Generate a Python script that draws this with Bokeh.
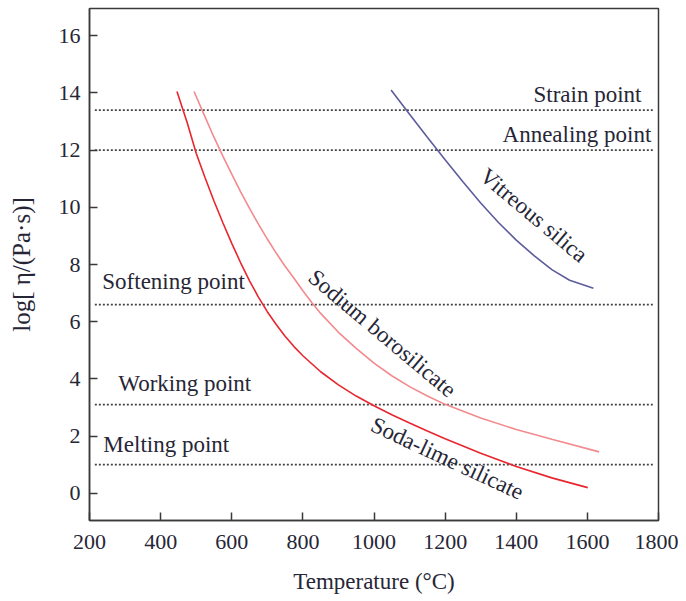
from bokeh.plotting import figure
from bokeh.models import ColumnDataSource, FixedTicker, Range1d
from bokeh.core.properties import value
from bokeh.embed import file_html
from bokeh.resources import INLINE
import math

# ---- data ----
soda_T = [446, 475, 500, 525, 550, 575, 600, 625, 650, 675, 700, 725, 750, 775, 800,
          850, 900, 950, 1000, 1050, 1100, 1150, 1200, 1300, 1400, 1500, 1601]
soda_logeta = [14.05, 12.95, 11.89, 11.03, 10.22, 9.46, 8.74, 8.06, 7.43, 6.86, 6.35, 5.90, 5.49, 5.13, 4.81,
               4.25, 3.79, 3.40, 3.06, 2.75, 2.46, 2.18, 1.91, 1.40, 0.94, 0.54, 0.20]

boro_T = [494, 520, 550, 575, 600, 625, 650, 675, 700, 725, 750, 775, 800, 825, 850,
          900, 950, 1000, 1050, 1100, 1150, 1200, 1300, 1400, 1500, 1633]
boro_logeta = [14.05, 13.3, 12.45, 11.79, 11.16, 10.54, 9.96, 9.41, 8.89, 8.40, 7.94, 7.52, 7.08, 6.67, 6.29,
               5.63, 5.07, 4.55, 4.11, 3.73, 3.40, 3.11, 2.63, 2.23, 1.89, 1.45]

silica_T = [1048, 1100, 1150, 1200, 1250, 1300, 1350, 1400, 1450, 1500, 1550, 1617]
silica_logeta = [14.1, 13.25, 12.45, 11.66, 10.89, 10.15, 9.47, 8.85, 8.31, 7.82, 7.45, 7.17]

point_names = ["Strain point", "Annealing point", "Softening point", "Working point", "Melting point"]
point_levels = [13.4, 12.0, 6.6, 3.1, 1.0]

x_ticks = [200, 400, 600, 800, 1000, 1200, 1400, 1600, 1800]
y_ticks = [0, 2, 4, 6, 8, 10, 12, 14, 16]

# ---- styling ----
FONT = "Liberation Serif"
TEXT_COLOR = "#262636"
AXIS_COLOR = "#3a3a3a"

p = figure(width=678, height=600, output_backend="svg", toolbar_location=None,
           x_range=Range1d(200, 1800), y_range=Range1d(-0.95, 16.95),
           min_border_left=89, min_border_right=20, min_border_top=8, min_border_bottom=80)
p.background_fill_color = "white"
p.border_fill_color = "white"
p.outline_line_color = AXIS_COLOR
p.outline_line_width = 1.5
p.grid.visible = False

for ax in (p.xaxis[0], p.yaxis[0]):
    ax.axis_line_color = AXIS_COLOR
    ax.axis_line_width = 1.5
    ax.major_tick_line_color = AXIS_COLOR
    ax.major_tick_line_width = 1.5
    ax.major_tick_in = 8
    ax.major_tick_out = 0
    ax.minor_tick_line_color = None
    ax.major_label_text_font = FONT
    ax.major_label_text_font_size = "22px"
    ax.major_label_text_color = TEXT_COLOR
    ax.axis_label_text_font = FONT
    ax.axis_label_text_font_style = "normal"
    ax.axis_label_text_color = TEXT_COLOR

p.xaxis[0].axis_label_text_font_size = "23px"
p.yaxis[0].axis_label_text_font_size = "25px"
p.xaxis[0].ticker = FixedTicker(ticks=x_ticks)
p.yaxis[0].ticker = FixedTicker(ticks=y_ticks)
p.xaxis[0].axis_label = "Temperature (°C)"
p.yaxis[0].axis_label = "log[ η/(Pa·s)]"
p.xaxis[0].major_label_standoff = 14
p.xaxis[0].axis_label_standoff = 17
p.yaxis[0].major_label_standoff = 9
p.yaxis[0].axis_label_standoff = 21

# reference (dotted) lines
ref_src = ColumnDataSource(dict(x0=[215] * len(point_levels), x1=[1785] * len(point_levels),
                                y=point_levels))
p.segment(x0="x0", y0="y", x1="x1", y1="y", source=ref_src,
          line_color="#444444", line_width=1.7, line_dash="2 2")

# curves
p.line(soda_T, soda_logeta, line_color="#e8262e", line_width=1.6)
p.line(boro_T, boro_logeta, line_color="#f28a8e", line_width=1.6)
p.line(silica_T, silica_logeta, line_color="#5d5c9c", line_width=1.6)

# labels for the reference lines
lab_x = [1752, 1780, 236, 281, 239]
lab_y = [13.96, 12.53, 7.4, 3.83, 1.7]
lab_align = ["right", "right", "left", "left", "left"]
p.text(x=lab_x, y=lab_y, text=point_names, text_align=lab_align,
       text_baseline="alphabetic", text_font=value(FONT), text_font_size="23px",
       text_color=TEXT_COLOR)

# curve labels (rotated)
curve_names = ["Vitreous silica", "Sodium borosilicate", "Soda-lime silicate"]
cx = [1449, 1023, 1206]
cy = [9.72, 5.59, 1.22]
cang = [math.radians(-40), math.radians(-40), math.radians(-25)]
p.text(x=cx, y=cy, text=curve_names, angle=cang, text_align="center",
       text_baseline="middle", text_font=value(FONT), text_font_size="23px",
       text_color=TEXT_COLOR)

open("out.html", "w").write(file_html(p, INLINE))
